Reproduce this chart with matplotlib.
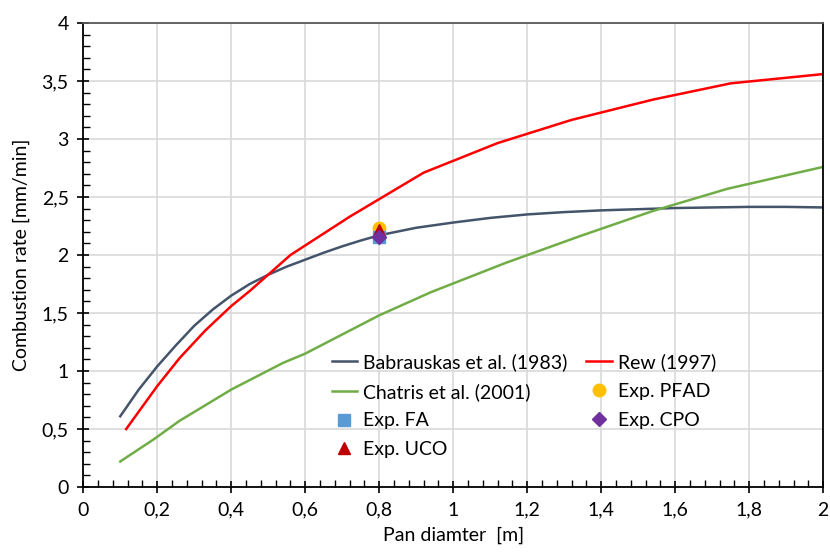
import matplotlib
matplotlib.use("Agg")
import matplotlib.pyplot as plt
from matplotlib.ticker import MultipleLocator, FuncFormatter

plt.rcParams["font.family"] = ["Lato", "DejaVu Sans"]

# ---- data ----
bab_x = [0.10, 0.15, 0.20, 0.25, 0.30, 0.35, 0.40, 0.45, 0.50, 0.55, 0.60, 0.65, 0.70, 0.75, 0.80,
         0.90, 1.00, 1.10, 1.20, 1.30, 1.40, 1.50, 1.60, 1.70, 1.80, 1.90, 2.00]
bab_y = [0.61, 0.84, 1.04, 1.22, 1.39, 1.53, 1.65, 1.75, 1.83, 1.90, 1.96, 2.02, 2.075, 2.125, 2.17,
         2.235, 2.28, 2.32, 2.35, 2.37, 2.385, 2.395, 2.405, 2.41, 2.415, 2.415, 2.41]

rew_x = [0.116, 0.20, 0.26, 0.33, 0.40, 0.45, 0.56, 0.72, 0.92, 1.12, 1.32, 1.54, 1.75, 2.00]
rew_y = [0.50, 0.87, 1.11, 1.35, 1.56, 1.69, 2.00, 2.33, 2.71, 2.965, 3.165, 3.34, 3.48, 3.56]

chat_x = [0.10, 0.19, 0.26, 0.40, 0.54, 0.60, 0.80, 0.94, 1.14, 1.34, 1.54, 1.74, 2.00]
chat_y = [0.22, 0.41, 0.57, 0.84, 1.07, 1.15, 1.48, 1.68, 1.93, 2.16, 2.38, 2.57, 2.76]

exp_x = [0.8]
pfad_y = [2.235]
fa_y = [2.155]
uco_y = [2.22]
cpo_y = [2.155]

fig = plt.figure(figsize=(8.3, 5.55), dpi=100)
ax = fig.add_axes([0.1003, 0.1225, 0.8915, 0.836])

l_bab, = ax.plot(bab_x, bab_y, color="#44546A", lw=1.8, label="Babrauskas et al. (1983)")
l_rew, = ax.plot(rew_x, rew_y, color="#FF0000", lw=1.8, label="Rew (1997)")
l_chat, = ax.plot(chat_x, chat_y, color="#70AD47", lw=1.8, label="Chatris et al. (2001)")
m_pfad, = ax.plot(exp_x, pfad_y, "o", color="#FFC000", ms=9, ls="none", label="Exp. PFAD", zorder=5)
m_fa, = ax.plot(exp_x, fa_y, "s", color="#5B9BD5", ms=8.5, ls="none", label="Exp. FA", zorder=5)
m_uco, = ax.plot(exp_x, uco_y, "^", color="#C00000", ms=9, ls="none", label="Exp. UCO", zorder=6)
m_cpo, = ax.plot(exp_x, cpo_y, "D", color="#7030A0", ms=7.5, ls="none", label="Exp. CPO", zorder=7)

ax.set_xlim(0, 2)
ax.set_ylim(0, 4)
ax.xaxis.set_major_locator(MultipleLocator(0.2))
ax.xaxis.set_minor_locator(MultipleLocator(0.04))
ax.yaxis.set_major_locator(MultipleLocator(0.5))
ax.yaxis.set_minor_locator(MultipleLocator(0.1))

comma = FuncFormatter(lambda v, p: f"{v:g}".replace(".", ","))
ax.xaxis.set_major_formatter(comma)
ax.yaxis.set_major_formatter(comma)

ax.grid(True, which="major", color="#D9D9D9", lw=1.2)
ax.set_axisbelow(True)
ax.tick_params(which="major", direction="inout", length=9, width=1.2, labelsize=14, pad=6)
ax.tick_params(which="minor", direction="in", length=5, width=1.0)
for side in ["left", "bottom", "right"]:
    ax.spines[side].set_color("black")
    ax.spines[side].set_linewidth(1.3)
ax.spines["top"].set_color("#595959")
ax.spines["top"].set_linewidth(1.3)

ax.set_xlabel("Pan diamter  [m]", fontsize=14, labelpad=6)
ax.set_ylabel("Combustion rate [mm/min]", fontsize=14, labelpad=8)

handles = [l_bab, l_chat, m_fa, m_uco, l_rew, m_pfad, m_cpo]
ax.legend(handles=handles, ncol=2, frameon=False, fontsize=14,
          loc="upper left", bbox_to_anchor=(0.325, 0.305),
          handlelength=1.3, handletextpad=0.3, columnspacing=1.0,
          labelspacing=0.6, borderaxespad=0)

fig.savefig("out.png", dpi=100)
